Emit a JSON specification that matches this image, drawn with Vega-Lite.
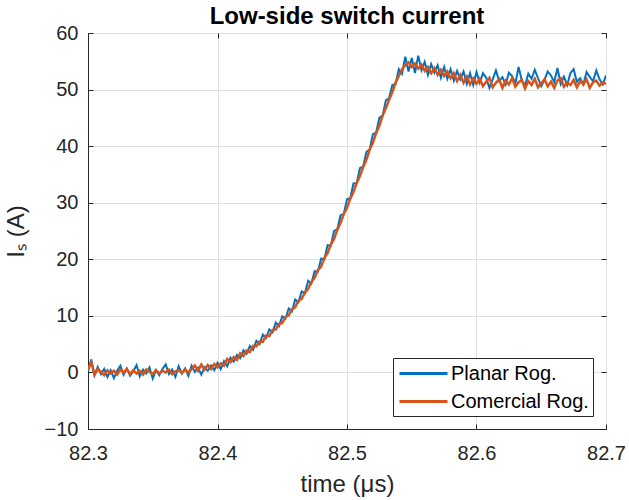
{
  "$schema": "https://vega.github.io/schema/vega-lite/v6.json",
  "autosize": "none",
  "padding": {"left": 88, "top": 33, "right": 23, "bottom": 71},
  "width": 518,
  "height": 396,
  "background": "white",
  "config": {
    "font": "Liberation Sans",
    "view": {"stroke": "#262626", "strokeWidth": 1},
    "axis": {
      "labelFont": "Liberation Sans",
      "titleFont": "Liberation Sans",
      "labelColor": "#262626",
      "titleColor": "#262626",
      "labelFontSize": 20,
      "titleFontSize": 24,
      "titleFontWeight": "normal",
      "domainColor": "#262626",
      "tickColor": "#262626",
      "gridColor": "#e0e0e0",
      "tickSize": -5
    }
  },
  "title": {
    "text": "Low-side switch current",
    "fontSize": 24,
    "fontWeight": "bold",
    "color": "black",
    "font": "Liberation Sans",
    "offset": -6
  },
  "datasets": {
    "d": [
      {"t":82.3,"p":0.2,"c":0.5},{"t":82.3025,"p":2.3,"c":1.8},{"t":82.305,"p":-0.5,"c":-0.4},{"t":82.3075,"p":1.0,"c":0.6},
      {"t":82.31,"p":-0.3,"c":0.1},{"t":82.3125,"p":0.6,"c":-0.5},{"t":82.315,"p":-0.8,"c":0.4},{"t":82.3175,"p":0.4,"c":-0.2},
      {"t":82.32,"p":-1.0,"c":0.3},{"t":82.3225,"p":0.3,"c":-0.4},{"t":82.325,"p":1.2,"c":0.5},{"t":82.3275,"p":-0.4,"c":0.0},
      {"t":82.33,"p":0.7,"c":0.6},{"t":82.3325,"p":-0.6,"c":-0.3},{"t":82.335,"p":0.2,"c":0.4},{"t":82.3375,"p":1.3,"c":-0.2},
      {"t":82.34,"p":-0.7,"c":0.3},{"t":82.3425,"p":0.5,"c":-0.4},{"t":82.345,"p":-0.2,"c":0.5},{"t":82.3475,"p":0.9,"c":0.1},
      {"t":82.35,"p":-1.1,"c":-0.3},{"t":82.3525,"p":0.4,"c":0.4},{"t":82.355,"p":-0.5,"c":-0.2},{"t":82.3575,"p":0.6,"c":0.3},
      {"t":82.36,"p":1.4,"c":0.0},{"t":82.3625,"p":-0.3,"c":0.5},{"t":82.365,"p":0.5,"c":-0.3},{"t":82.3675,"p":-0.8,"c":0.2},
      {"t":82.37,"p":1.1,"c":0.4},{"t":82.3725,"p":-0.2,"c":-0.1},{"t":82.375,"p":0.7,"c":0.5},{"t":82.3775,"p":-0.6,"c":0.0},
      {"t":82.38,"p":1.2,"c":0.6},{"t":82.3825,"p":0.1,"c":1.2},{"t":82.385,"p":0.8,"c":0.3},{"t":82.3875,"p":-0.4,"c":1.4},
      {"t":82.39,"p":0.9,"c":0.5},{"t":82.3925,"p":0.3,"c":1.3},{"t":82.395,"p":1.2,"c":0.6},{"t":82.3975,"p":0.4,"c":1.5},
      {"t":82.4,"p":1.7,"c":0.9},{"t":82.4025,"p":0.6,"c":1.6},{"t":82.405,"p":2.0,"c":1.2},{"t":82.4075,"p":1.1,"c":2.4},
      {"t":82.41,"p":2.6,"c":1.8},{"t":82.4125,"p":1.9,"c":2.7},{"t":82.415,"p":3.1,"c":2.2},{"t":82.4175,"p":2.5,"c":3.4},
      {"t":82.42,"p":3.9,"c":2.9},{"t":82.4225,"p":3.3,"c":3.9},{"t":82.425,"p":4.7,"c":3.6},{"t":82.4275,"p":4.0,"c":4.7},
      {"t":82.43,"p":5.6,"c":4.6},{"t":82.4325,"p":5.0,"c":5.5},{"t":82.435,"p":6.7,"c":5.4},{"t":82.4375,"p":6.1,"c":6.5},
      {"t":82.44,"p":7.6,"c":6.4},{"t":82.4425,"p":7.1,"c":7.5},{"t":82.445,"p":8.8,"c":7.6},{"t":82.4475,"p":8.2,"c":8.6},
      {"t":82.45,"p":9.9,"c":8.7},{"t":82.4525,"p":9.5,"c":9.8},{"t":82.455,"p":11.3,"c":10.1},{"t":82.4575,"p":10.8,"c":11.2},
      {"t":82.46,"p":12.9,"c":11.5},{"t":82.4625,"p":12.4,"c":12.7},{"t":82.465,"p":14.3,"c":13.0},{"t":82.4675,"p":14.0,"c":14.1},
      {"t":82.47,"p":16.2,"c":14.8},{"t":82.4725,"p":15.7,"c":16.0},{"t":82.475,"p":17.9,"c":16.7},{"t":82.4775,"p":17.8,"c":18.1},
      {"t":82.48,"p":20.1,"c":18.7},{"t":82.4825,"p":20.0,"c":20.2},{"t":82.485,"p":22.5,"c":21.1},{"t":82.4875,"p":22.4,"c":22.6},
      {"t":82.49,"p":25.0,"c":23.6},{"t":82.4925,"p":25.3,"c":25.2},{"t":82.495,"p":27.8,"c":26.4},{"t":82.4975,"p":28.0,"c":28.0},
      {"t":82.5,"p":30.6,"c":29.1},{"t":82.5025,"p":30.8,"c":30.7},{"t":82.505,"p":33.4,"c":31.9},{"t":82.5075,"p":33.5,"c":33.5},
      {"t":82.51,"p":36.1,"c":34.7},{"t":82.5125,"p":36.4,"c":36.3},{"t":82.515,"p":39.0,"c":37.6},{"t":82.5175,"p":39.4,"c":39.4},
      {"t":82.52,"p":42.1,"c":40.6},{"t":82.5225,"p":42.4,"c":42.3},{"t":82.525,"p":45.0,"c":43.6},{"t":82.5275,"p":45.4,"c":45.4},
      {"t":82.53,"p":48.1,"c":46.7},{"t":82.5325,"p":48.5,"c":48.2},{"t":82.535,"p":50.8,"c":49.5},{"t":82.5375,"p":51.0,"c":51.2},
      {"t":82.54,"p":53.6,"c":52.4},{"t":82.5425,"p":52.8,"c":53.6},{"t":82.545,"p":55.8,"c":54.3},{"t":82.5475,"p":53.2,"c":54.8},
      {"t":82.55,"p":55.6,"c":54.0},{"t":82.5525,"p":52.9,"c":54.6},{"t":82.555,"p":56.0,"c":53.7},{"t":82.5575,"p":53.4,"c":54.4},
      {"t":82.56,"p":54.9,"c":53.3},{"t":82.5625,"p":52.6,"c":54.0},{"t":82.565,"p":54.5,"c":52.9},{"t":82.5675,"p":53.0,"c":53.8},
      {"t":82.57,"p":54.3,"c":52.6},{"t":82.5725,"p":52.1,"c":53.5},{"t":82.575,"p":54.0,"c":52.4},{"t":82.5775,"p":51.9,"c":53.2},
      {"t":82.58,"p":53.6,"c":52.0},{"t":82.5825,"p":51.6,"c":52.9},{"t":82.585,"p":53.3,"c":51.5},{"t":82.5875,"p":51.8,"c":52.6},
      {"t":82.59,"p":53.2,"c":51.2},{"t":82.5925,"p":51.0,"c":52.3},{"t":82.595,"p":52.9,"c":50.9},{"t":82.5975,"p":50.8,"c":52.0},
      {"t":82.6,"p":53.1,"c":51.0},{"t":82.6025,"p":51.2,"c":51.9},{"t":82.605,"p":52.9,"c":50.6},{"t":82.6075,"p":52.1,"c":51.4},
      {"t":82.61,"p":50.3,"c":52.1},{"t":82.6125,"p":51.8,"c":50.4},{"t":82.615,"p":53.4,"c":51.2},{"t":82.6175,"p":51.5,"c":51.8},
      {"t":82.62,"p":52.2,"c":50.3},{"t":82.6225,"p":50.9,"c":51.6},{"t":82.625,"p":53.0,"c":50.9},{"t":82.6275,"p":52.4,"c":52.0},
      {"t":82.63,"p":51.1,"c":50.5},{"t":82.6325,"p":54.0,"c":51.3},{"t":82.635,"p":51.6,"c":51.7},{"t":82.6375,"p":50.7,"c":50.2},
      {"t":82.64,"p":52.8,"c":51.5},{"t":82.6425,"p":51.9,"c":50.8},{"t":82.645,"p":53.5,"c":51.9},{"t":82.6475,"p":52.0,"c":50.4},
      {"t":82.65,"p":50.6,"c":51.1},{"t":82.6525,"p":51.7,"c":51.8},{"t":82.655,"p":53.2,"c":50.6},{"t":82.6575,"p":52.5,"c":51.4},
      {"t":82.66,"p":51.3,"c":50.3},{"t":82.6625,"p":53.8,"c":51.6},{"t":82.665,"p":51.0,"c":52.0},{"t":82.6675,"p":52.3,"c":50.5},
      {"t":82.67,"p":50.8,"c":51.2},{"t":82.6725,"p":52.9,"c":50.8},{"t":82.675,"p":53.6,"c":51.7},{"t":82.6775,"p":51.4,"c":50.4},
      {"t":82.68,"p":52.0,"c":51.5},{"t":82.6825,"p":50.9,"c":50.9},{"t":82.685,"p":53.1,"c":51.8},{"t":82.6875,"p":52.2,"c":50.3},
      {"t":82.69,"p":51.5,"c":51.3},{"t":82.6925,"p":53.4,"c":51.6},{"t":82.695,"p":51.8,"c":50.7},{"t":82.6975,"p":50.9,"c":51.2},
      {"t":82.7,"p":52.5,"c":51.0}
    ]
  },
  "data": {"name": "d"},
  "resolve": {"axis": {"x": "independent", "y": "independent"}},
  "layer": [
    {
      "mark": {"type": "line", "strokeWidth": 2, "clip": true},
      "encoding": {
        "x": {
          "field": "t", "type": "quantitative",
          "scale": {"domain": [82.3, 82.7], "zero": false, "nice": false},
          "axis": {"values": [82.3, 82.4, 82.5, 82.6, 82.7], "format": ".1f", "title": "time (μs)", "labelPadding": 19, "titlePadding": 9, "labelFlush": false}
        },
        "y": {
          "field": "p", "type": "quantitative",
          "scale": {"domain": [-10, 60], "zero": false, "nice": false},
          "axis": {"values": [-10, 0, 10, 20, 30, 40, 50, 60], "title": "Iₛ (A)", "labelPadding": 15, "titlePadding": 16}
        },
        "color": {
          "datum": "Planar Rog.",
          "scale": {"domain": ["Planar Rog.", "Comercial Rog."], "range": ["#0072BD", "#D95319"]},
          "legend": {
            "title": null,
            "orient": "bottom-right",
            "offset": 13,
            "labelFontSize": 20,
            "labelFont": "Liberation Sans",
            "labelColor": "black",
            "symbolType": "M-2.4,0H2.4",
            "symbolStrokeWidth": 3,
            "symbolSize": 400,
            "symbolOffset": 15,
            "strokeColor": "#262626",
            "fillColor": "white",
            "padding": 4,
            "rowPadding": 6,
            "labelOffset": 16
          }
        }
      }
    },
    {
      "mark": {"type": "line", "strokeWidth": 2.5, "clip": true},
      "encoding": {
        "x": {
          "field": "t", "type": "quantitative",
          "axis": {"orient": "top", "values": [82.3, 82.4, 82.5, 82.6, 82.7], "labels": false, "grid": false, "title": null, "domain": false}
        },
        "y": {
          "field": "c", "type": "quantitative",
          "axis": {"orient": "right", "values": [-10, 0, 10, 20, 30, 40, 50, 60], "labels": false, "grid": false, "title": null, "domain": false}
        },
        "color": {"datum": "Comercial Rog."}
      }
    }
  ]
}
